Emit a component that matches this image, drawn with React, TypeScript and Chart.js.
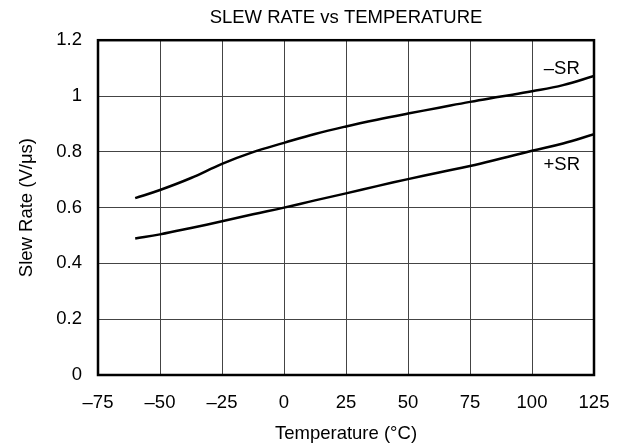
import React, { useEffect, useRef } from "react";
import { Chart, registerables } from "chart.js";

Chart.register(...registerables);

const temperatures = [-60, -50, -37.5, -25, -12.5, 0, 12.5, 25, 37.5, 50, 62.5, 75, 87.5, 100, 112.5, 125];
const negSR = [0.634, 0.663, 0.706, 0.757, 0.799, 0.832, 0.864, 0.891, 0.915, 0.937, 0.958, 0.979, 0.998, 1.017, 1.039, 1.072];
const posSR = [0.489, 0.504, 0.527, 0.551, 0.576, 0.6, 0.626, 0.651, 0.677, 0.702, 0.726, 0.749, 0.776, 0.804, 0.83, 0.863];
const xTicks = [-75, -50, -25, 0, 25, 50, 75, 100, 125];
const yTicks = [0, 0.2, 0.4, 0.6, 0.8, 1, 1.2];
const seriesLabels = [
  { text: "\u2013SR", x: 112, y: 1.096 },
  { text: "+SR", x: 112, y: 0.752 },
];

const FONT = "'Liberation Sans', Arial, sans-serif";
const FS = 18.5;

const fmt = (v: number) => (v < 0 ? "\u2013" + Math.abs(v) : String(v));

const framePlugin = {
  id: "frameAndLabels",
  afterDatasetsDraw(chart: any) {
    const { ctx, chartArea, scales } = chart;
    ctx.save();
    ctx.strokeStyle = "#000";
    ctx.lineWidth = 2.5;
    ctx.strokeRect(chartArea.left, chartArea.top, chartArea.right - chartArea.left, chartArea.bottom - chartArea.top);
    ctx.fillStyle = "#000";
    ctx.font = `${FS}px ${FONT}`;
    ctx.textAlign = "center";
    ctx.textBaseline = "middle";
    for (const l of seriesLabels) {
      ctx.fillText(l.text, scales.x.getPixelForValue(l.x), scales.y.getPixelForValue(l.y));
    }
    ctx.restore();
  },
};

export default function App() {
  const ref = useRef<HTMLCanvasElement | null>(null);
  useEffect(() => {
    if (!ref.current) return;
    const mk = (arr: number[]) => temperatures.map((t, i) => ({ x: t, y: arr[i] }));
    const chart = new Chart(ref.current, {
      type: "line",
      data: {
        datasets: [
          { label: "-SR", data: mk(negSR), borderColor: "#000", borderWidth: 2.5, pointRadius: 0, tension: 0.4, fill: false },
          { label: "+SR", data: mk(posSR), borderColor: "#000", borderWidth: 2.5, pointRadius: 0, tension: 0.4, fill: false },
        ],
      },
      options: {
        animation: false,
        responsive: false,
        maintainAspectRatio: false,
        layout: { padding: { left: 0, right: 36, top: 0, bottom: 0 } },
        plugins: {
          legend: { display: false },
          tooltip: { enabled: false },
          title: {
            display: true,
            fullSize: false,
            text: "SLEW RATE vs TEMPERATURE",
            color: "#000",
            font: { family: FONT, size: FS, weight: "normal" },
            padding: { top: 7, bottom: 11 },
          },
        },
        scales: {
          x: {
            type: "linear",
            min: -75,
            max: 125,
            afterBuildTicks: (s: any) => { s.ticks = xTicks.map((v) => ({ value: v })); },
            afterFit: (s: any) => { s.height = 70; },
            ticks: { color: "#000", font: { family: FONT, size: FS }, padding: 17, callback: (v: any) => fmt(Number(v)), maxRotation: 0, autoSkip: false },
            grid: { color: "#444", lineWidth: 1, drawTicks: false },
            border: { display: false },
            title: { display: true, text: "Temperature (\u00B0C)", color: "#000", font: { family: FONT, size: FS }, padding: { top: 8, bottom: 0 } },
          },
          y: {
            type: "linear",
            min: 0,
            max: 1.2,
            afterBuildTicks: (s: any) => { s.ticks = yTicks.map((v) => ({ value: v })); },
            afterFit: (s: any) => { s.width = 98; },
            ticks: { color: "#000", font: { family: FONT, size: FS }, padding: 16, callback: (v: any) => String(Number(v)), autoSkip: false },
            grid: { color: "#444", lineWidth: 1, drawTicks: false },
            border: { display: false },
            title: { display: true, text: "Slew Rate (V/\u03BCs)", color: "#000", font: { family: FONT, size: FS }, padding: { top: 16, bottom: 8 } },
          },
        },
      },
      plugins: [framePlugin],
    } as any);
    return () => chart.destroy();
  }, []);
  return (
    <div style={{ position: "fixed", left: 0, top: 0, width: 630, height: 445, background: "#fff" }}>
      <canvas ref={ref} width={630} height={445} style={{ width: 630, height: 445, display: "block" }} />
    </div>
  );
}
